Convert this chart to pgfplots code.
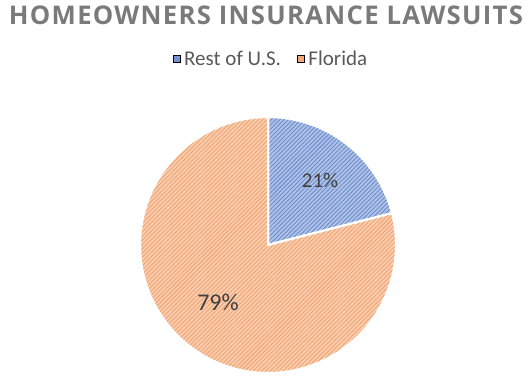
\documentclass[border=0pt]{standalone}
\usepackage{fontspec}
\setmainfont{Carlito}
\newfontfamily\titlefont{Open Sans}
\usepackage{pgfplots}
\pgfplotsset{compat=1.18}
\usetikzlibrary{patterns.meta}
\definecolor{titlegray}{HTML}{7A7A7A}
\definecolor{leggray}{HTML}{595959}
\definecolor{lblgray}{HTML}{404040}
\definecolor{bluebase}{HTML}{B0C3E6}
\definecolor{bluestripe}{HTML}{6A8BD0}
\definecolor{orangebase}{HTML}{F9CDB0}
\definecolor{orangestripe}{HTML}{F1A36E}
\begin{document}
\begin{tikzpicture}
\begin{axis}[
  width=532pt, height=391pt, scale only axis,
  xmin=0, xmax=532, ymin=0, ymax=391,
  axis lines=none, clip=false,
  legend style={draw=none, fill=none, at={(axis cs:272,332)}, anchor=center,
    font=\fontsize{21}{23}\selectfont\color{leggray}, legend columns=2,
    nodes={inner xsep=4pt},
    /tikz/every even column/.append style={column sep=12pt}},
  legend image code/.code={\fill[#1] (0pt,-3.5pt) rectangle (7pt,3.5pt);},
]
% Rest of U.S. 21%, Florida 79%
\addplot[forget plot, draw=white, line width=2pt, fill=bluebase,
  postaction={pattern={Lines[angle=45,distance=3pt,line width=0.9pt]}, pattern color=bluestripe},
  domain={90-21*3.6}:90, samples=80, variable=\t]
  ({268+128*cos(\t)},{146+128*sin(\t)}) -- (axis cs:268,146) -- cycle;
\addplot[forget plot, draw=white, line width=2pt, fill=orangebase,
  postaction={pattern={Lines[angle=45,distance=3pt,line width=0.9pt]}, pattern color=orangestripe},
  domain=90:{90+79*3.6}, samples=200, variable=\t]
  ({268+128*cos(\t)},{146+128*sin(\t)}) -- (axis cs:268,146) -- cycle;
\addlegendimage{fill=bluestripe!85!bluebase}
\addlegendentry{Rest of U.S.}
\addlegendimage{fill=orangestripe!85!orangebase}
\addlegendentry{Florida}
\node[font=\fontsize{21}{23}\selectfont, text=lblgray] at (axis cs:320,211) {21\%};
\node[font=\fontsize{24}{26}\selectfont, text=lblgray] at (axis cs:218,89) {79\%};
\node[inner sep=0pt, text=titlegray] at (axis cs:266,376) {\resizebox{514pt}{!}{\fontsize{28}{30}\titlefont\bfseries\addfontfeatures{LetterSpace=5}\selectfont HOMEOWNERS INSURANCE LAWSUITS}};
\coordinate (BL) at (axis cs:0,0);
\coordinate (TR) at (axis cs:532,391);
\end{axis}
\pgfresetboundingbox
\path (BL) rectangle (TR);
\end{tikzpicture}
\end{document}
